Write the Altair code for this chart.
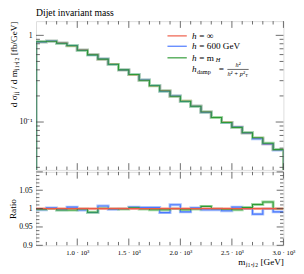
import altair as alt
import pandas as pd

# ---------------- data ----------------
bin_lo = [600, 700, 800, 900, 1000, 1100, 1200, 1300, 1400, 1500, 1600, 1700,
          1800, 1900, 2000, 2100, 2200, 2300, 2400, 2500, 2600, 2700, 2800, 2900]
x_hi = 3000
# d sigma / d m  (h = inf, reference) [fb/GeV]
xsec_inf = [0.844, 0.857, 0.814, 0.761, 0.675, 0.601, 0.531, 0.463, 0.400, 0.352,
            0.304, 0.263, 0.229, 0.198, 0.174, 0.152, 0.130, 0.113, 0.099, 0.087,
            0.075, 0.065, 0.056, 0.048]
ratio_inf = [1.0] * 24
ratio_600 = [0.997, 1.002, 0.997, 1.004, 0.996, 0.9895, 1.007, 0.998, 1.000, 1.004,
             1.003, 1.003, 0.989, 1.0105, 0.991, 1.002, 0.997, 0.997, 0.994, 1.004,
             1.000, 0.985, 1.000, 0.991]
ratio_mh = [0.998, 1.000, 0.996, 0.996, 0.999, 0.990, 1.001, 1.000, 0.999, 1.002,
            0.999, 0.997, 0.997, 1.000, 0.997, 0.999, 1.006, 1.000, 0.998, 0.997,
            1.003, 1.011, 1.018, 1.000]

x_major = [1000, 1500, 2000, 2500, 3000]
x_minor = [700, 800, 900, 1100, 1200, 1300, 1400, 1600, 1700, 1800, 1900,
           2100, 2200, 2300, 2400, 2600, 2700, 2800, 2900]
y_major_main = [0.1, 1.0]
y_minor_main = [0.03, 0.04, 0.05, 0.06, 0.07, 0.08, 0.09,
                0.2, 0.3, 0.4, 0.5, 0.6, 0.7, 0.8, 0.9]
r_major = [0.9, 0.95, 1.0, 1.05, 1.1]
r_minor = [0.91, 0.92, 0.93, 0.94, 0.96, 0.97, 0.98, 0.99,
           1.01, 1.02, 1.03, 1.04, 1.06, 1.07, 1.08, 1.09]
r_labels = [0.9, 0.95, 1.0, 1.05]

line_colors = ["#ee5a45", "#4a78ff", "#2e9a35"]
band_colors = ["#f6b2a6", "#aac2fb", "#a2d9a4"]

# ---------------- layout ----------------
W, H1, H2 = 256, 154, 76
FONT = "Liberation Serif"
TC = "#444444"

xs = alt.Scale(domain=[600, 3000], nice=False, zero=False)
ys_main = alt.Scale(type="log", domain=[0.028, 1.46], nice=False)
ys_ratio = alt.Scale(domain=[0.9, 1.1], nice=False, zero=False)

main_axis_y = alt.Axis(values=y_major_main, ticks=False, domain=False, grid=False,
                       labelExpr="datum.value == 1 ? '1' : '10⁻¹'",
                       labelFont=FONT, labelFontSize=8, labelColor="black",
                       labelPadding=4,
                       title="d σⱼⱼ / d mⱼ₁,ⱼ₂ [fb/GeV]", titleFont=FONT,
                       titleFontSize=9.5, titleFontWeight="normal",
                       titleColor="black", titleAnchor="end", titlePadding=1)
ratio_axis_y = alt.Axis(values=r_labels, ticks=False, domain=False, grid=False,
                        labelExpr="format(datum.value, '~g')",
                        labelFont=FONT, labelFontSize=8, labelColor="black",
                        labelPadding=4, title="Ratio", titleFont=FONT,
                        titleFontSize=9.5, titleFontWeight="normal",
                        titleColor="black", titlePadding=1)
ratio_axis_x = alt.Axis(values=x_major, ticks=False, domain=False, grid=False,
                        labelExpr="format(datum.value / 1000, '.1f') + ' · 10³'",
                        labelFont=FONT, labelFontSize=7, labelColor="black",
                        labelPadding=4, labelFlush=False,
                        title="mⱼ₁,ⱼ₂ [GeV]", titleFont=FONT, titleFontSize=9.5,
                        titleFontWeight="normal", titleColor="black",
                        titleAnchor="end", titlePadding=1)


def step_df(vals, floor=None):
    xv = list(bin_lo) + [x_hi]
    yv = list(vals) + [vals[-1]]
    if floor is not None:
        xv = [bin_lo[0]] + xv + [x_hi]
        yv = [floor] + yv + [floor]
    return pd.DataFrame({"x": xv, "y": yv, "i": list(range(len(xv)))})


def tick_layers(yscale, yaxis, xaxis, ymaj, ymin, H, ymaj_len, ymin_len,
                xmaj_len, xmin_len):
    layers = []
    for vals, ln in ((x_major, xmaj_len), (x_minor, xmin_len)):
        d = pd.DataFrame({"v": vals})
        base = alt.Chart(d).mark_rule(color=TC, strokeWidth=0.8)
        layers.append(base.encode(x=alt.X("v:Q", scale=xs, axis=xaxis),
                                  y=alt.value(H), y2=alt.value(H - ln)))
        layers.append(base.encode(x=alt.X("v:Q", scale=xs, axis=xaxis),
                                  y=alt.value(0), y2=alt.value(ln)))
    for vals, ln in ((ymaj, ymaj_len), (ymin, ymin_len)):
        d = pd.DataFrame({"v": vals})
        base = alt.Chart(d).mark_rule(color=TC, strokeWidth=0.8)
        layers.append(base.encode(y=alt.Y("v:Q", scale=yscale, axis=yaxis),
                                  x=alt.value(0), x2=alt.value(ln)))
        layers.append(base.encode(y=alt.Y("v:Q", scale=yscale, axis=yaxis),
                                  x=alt.value(W), x2=alt.value(W - ln)))
    return layers


def txt(s, x, y, size=9.5, style="normal", align="left"):
    return alt.Chart(pd.DataFrame({"t": [s]})).mark_text(
        font=FONT, fontSize=size, fontStyle=style, align=align,
        baseline="middle", color="black").encode(
        text="t:N", x=alt.value(x), y=alt.value(y))


# ---------------- main panel ----------------
main_vals = [
    xsec_inf,
    [a * b for a, b in zip(xsec_inf, ratio_600)],
    [a * b for a, b in zip(xsec_inf, ratio_mh)],
]

main_layers = []
for width, cols in ((3, band_colors), (1.1, line_colors)):
    for k in range(3):
        d = step_df(main_vals[k], floor=0.001)
        main_layers.append(
            alt.Chart(d).mark_line(interpolate="step-after", strokeWidth=width,
                                   color=cols[k], clip=True).encode(
                x=alt.X("x:Q", scale=xs, axis=None),
                y=alt.Y("y:Q", scale=ys_main, axis=main_axis_y),
                order="i:Q"))

main_layers += tick_layers(ys_main, main_axis_y, None, y_major_main, y_minor_main,
                           H1, 8, 4, 7, 3.5)

# title (real text, placed just above the plot frame)
main_layers.append(txt("Dijet invariant mass", 0, -8, size=10))

# legend
leg_y = [15.3, 26, 38]
for k in range(3):
    main_layers.append(
        alt.Chart(pd.DataFrame({"a": [0]})).mark_rule(
            color=line_colors[k], strokeWidth=1.2).encode(
            x=alt.value(136), x2=alt.value(156), y=alt.value(leg_y[k])))
main_layers.append(txt("h", 161.5, leg_y[0], style="italic"))
main_layers.append(txt("= ∞", 169, leg_y[0]))
main_layers.append(txt("h", 161.5, leg_y[1], style="italic"))
main_layers.append(txt("= 600 GeV", 169, leg_y[1]))
main_layers.append(txt("h", 161.5, leg_y[2], style="italic"))
main_layers.append(txt("= m", 169, leg_y[2]))
main_layers.append(txt("H", 186, leg_y[2] + 2.5, size=6.5, style="italic"))
main_layers.append(txt("h", 161.5, 50, style="italic"))
main_layers.append(txt("damp", 166.5, 52.5, size=6.5))
main_layers.append(txt("=", 189, 50))
main_layers.append(txt("h²", 209, 45, size=6.5, style="italic", align="center"))
main_layers.append(
    alt.Chart(pd.DataFrame({"a": [0]})).mark_rule(color="black", strokeWidth=0.6).encode(
        x=alt.value(198), x2=alt.value(220), y=alt.value(50)))
main_layers.append(txt("h² + p²", 207, 55, size=6.5, style="italic", align="center"))
main_layers.append(txt("T", 216.5, 57, size=4.5))

main = alt.layer(*main_layers).properties(width=W, height=H1)

# ---------------- ratio panel ----------------
ratio_sets = [ratio_inf, ratio_600, ratio_mh]
draw_order = [1, 2, 0]
ratio_layers = []
for width, cols in ((3, band_colors), (1.1, line_colors)):
    for k in draw_order:
        d = step_df(ratio_sets[k])
        ratio_layers.append(
            alt.Chart(d).mark_line(interpolate="step-after", strokeWidth=width,
                                   color=cols[k], clip=True).encode(
                x=alt.X("x:Q", scale=xs, axis=ratio_axis_x),
                y=alt.Y("y:Q", scale=ys_ratio, axis=ratio_axis_y),
                order="i:Q"))
ratio_layers += tick_layers(ys_ratio, ratio_axis_y, ratio_axis_x, r_major, r_minor,
                            H2, 7, 3.5, 7, 3.5)

ratio = alt.layer(*ratio_layers).properties(width=W, height=H2)

chart = alt.vconcat(main, ratio, spacing=0).properties(
    padding={"left": -1, "top": -5, "right": 0, "bottom": 0}
).configure_view(stroke="#333333", strokeWidth=1).configure(background="white")

chart.save("out.html", embed_options={"renderer": "svg", "actions": False})
